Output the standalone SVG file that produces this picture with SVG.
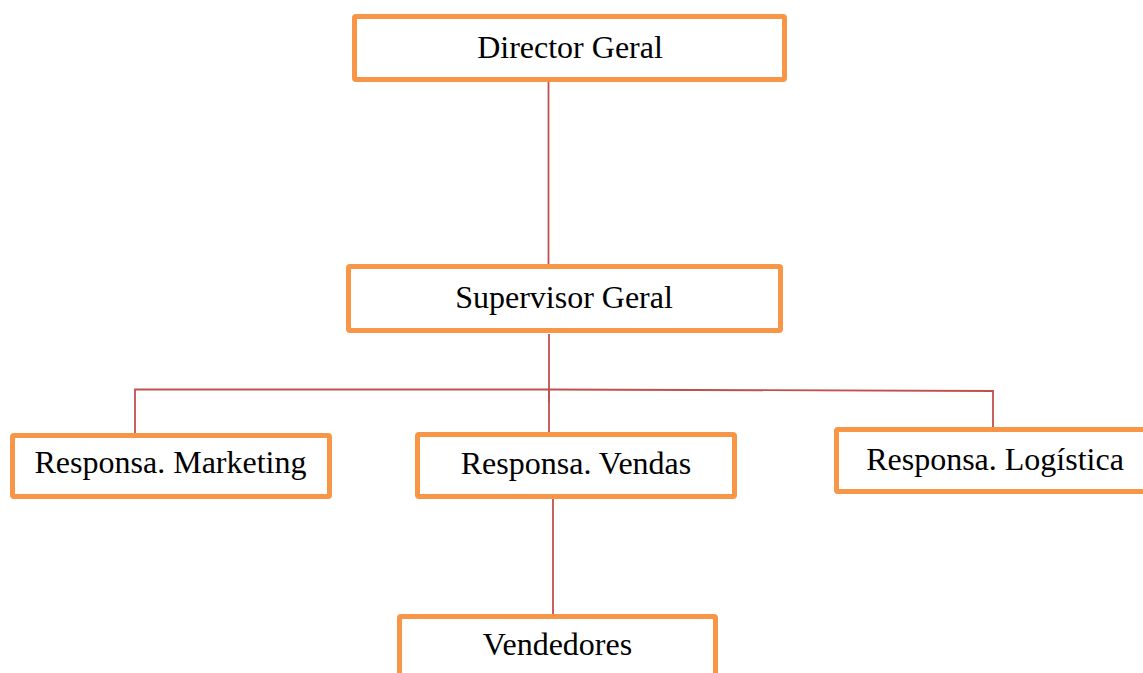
<svg xmlns="http://www.w3.org/2000/svg" width="1143" height="673" viewBox="0 0 1143 673">
<style>
.box{fill:#fff;stroke:#F79646;stroke-width:5;}
.lbl{font-family:"Liberation Serif","Times New Roman",serif;font-size:32px;fill:#000;text-anchor:middle;}
.ln{stroke:#C0504D;stroke-width:1.8;fill:none;}
</style>
<rect width="1143" height="673" fill="#fff"/>
<g id="connectors">
<line class="ln" x1="548.5" y1="82" x2="548.5" y2="265"/>
<line class="ln" x1="549" y1="334" x2="549" y2="403"/>
<polyline class="ln" points="135,433 135,389.5 549,389.5 993,391 993,428"/>
<line class="ln" x1="549" y1="390" x2="549" y2="433"/>
<line class="ln" x1="553" y1="499" x2="553" y2="615"/>
</g>
<g id="director">
<rect class="box" x="354.5" y="16.5" width="430" height="63" rx="1.5"/>
<text class="lbl" x="570" y="58">Director Geral</text>
</g>
<g id="supervisor">
<rect class="box" x="348.5" y="266.5" width="432" height="64" rx="1.5"/>
<text class="lbl" x="564" y="308">Supervisor Geral</text>
</g>
<g id="marketing">
<rect class="box" x="12.5" y="435.5" width="317" height="61" rx="1.5"/>
<text class="lbl" x="170.5" y="473">Responsa. Marketing</text>
</g>
<g id="vendas">
<rect class="box" x="417.5" y="434.5" width="317" height="62" rx="1.5"/>
<text class="lbl" x="576" y="474">Responsa. Vendas</text>
</g>
<g id="logistica">
<rect class="box" x="836.5" y="429.5" width="320" height="62" rx="1.5"/>
<text class="lbl" x="995" y="470">Responsa. Logística</text>
</g>
<g id="vendedores">
<rect class="box" x="399.5" y="616.5" width="316" height="70" rx="1.5"/>
<text class="lbl" x="557.5" y="655">Vendedores</text>
</g>
</svg>
